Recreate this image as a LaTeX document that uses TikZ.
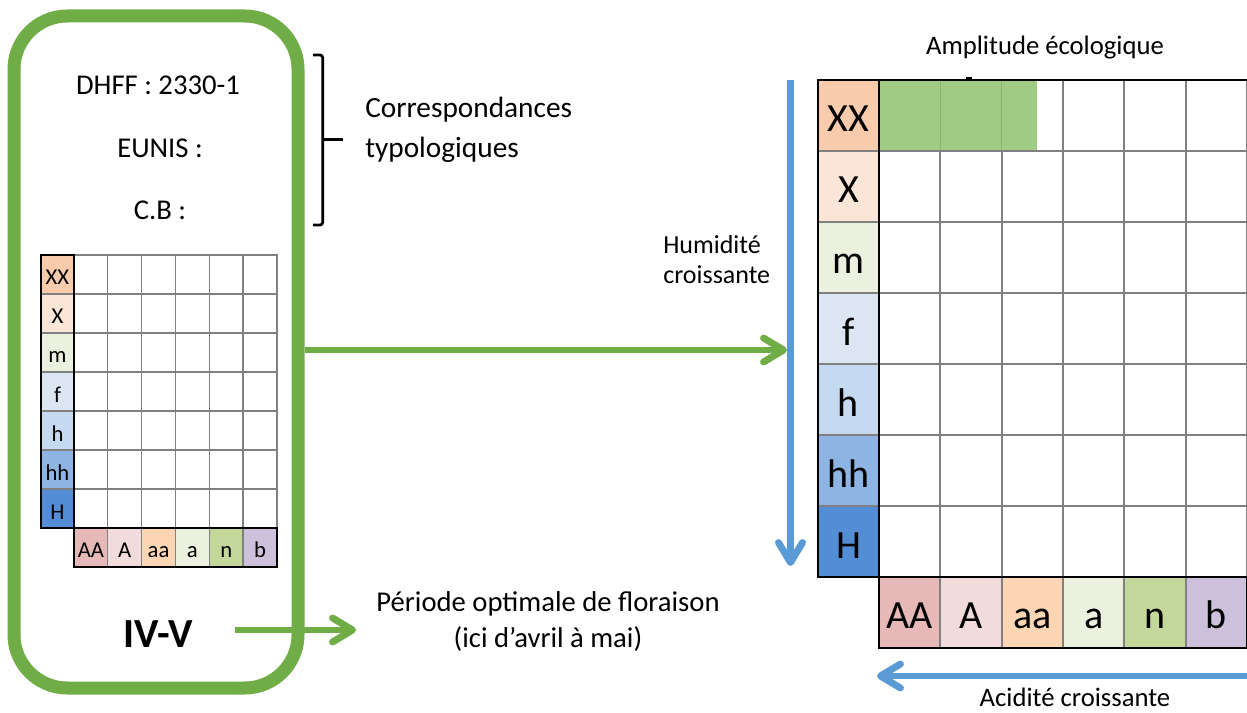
\documentclass[tikz,border=0pt]{standalone}
\usepackage{fontspec}
\setmainfont{Carlito}
\usetikzlibrary{arrows.meta}
\definecolor{gr}{HTML}{70AD47}
\definecolor{bl}{HTML}{5B9BD5}
\definecolor{gfill}{HTML}{A0CB85}
\definecolor{gfline}{HTML}{8AB36F}
\definecolor{glin}{HTML}{808080}
\definecolor{kXX}{HTML}{F8CBAD}
\definecolor{kX}{HTML}{FBE5D6}
\definecolor{km}{HTML}{EBF1DE}
\definecolor{kf}{HTML}{DCE6F2}
\definecolor{kh}{HTML}{C5D9F1}
\definecolor{khh}{HTML}{8DB4E2}
\definecolor{kH}{HTML}{538DD5}
\definecolor{kAA}{HTML}{E6B8B7}
\definecolor{kA}{HTML}{F2DCDB}
\definecolor{kaa}{HTML}{FCD5B4}
\definecolor{ka}{HTML}{EBF1DE}
\definecolor{kn}{HTML}{C4D79B}
\definecolor{kb}{HTML}{CCC0DA}
\tikzset{
  txt/.style={inner sep=0pt, font=\fontsize{21.5}{26}\selectfont},
  biglab/.style={inner sep=0pt, anchor=base, font=\fontsize{30}{34}\selectfont},
  smalllab/.style={inner sep=0pt, anchor=base, font=\fontsize{17}{20}\selectfont},
  gline/.style={draw=glin, line width=1.5pt},
  bline/.style={draw=black, line width=2pt},
  sgline/.style={draw=glin, line width=1pt},
  sbline/.style={draw=black, line width=1.3pt},
  garrow/.style={draw=gr, line width=5.2pt, -{Straight Barb[length=15pt,width=18pt,round]}},
  barrow/.style={draw=bl, line width=5.2pt, -{Straight Barb[length=15pt,width=18pt,round]}},
}
\begin{document}
\begin{tikzpicture}[x=0.75pt,y=-0.75pt]
\useasboundingbox (0,0) rectangle (1247,713);

% ---------- left card ----------
\node[draw=gr, line width=9.75pt, rounded corners=40pt, minimum width=213pt, minimum height=504pt] (card) at (156,352) {};
\node[txt] (dhff) at (158,85) {DHFF : 2330-1};
\node[txt] (eunis) at (160,148) {EUNIS :};
\node[txt] (cb) at (160,210) {C.B :};
\draw[line width=2pt, rounded corners=2pt] (313,55) -- (322.7,55) -- (322.7,225) -- (313,225);
\draw[line width=2pt] (322.7,139.5) -- (343,139.5);
\node[txt, align=left, anchor=west, font=\fontsize{22}{30}\selectfont] (corr) at (365,130) {Correspondances\\typologiques};

% ---------- small grid ----------
\foreach \lab/\col [count=\i from 0] in {XX/kXX, X/kX, m/km, f/kf, h/kh, hh/khh, H/kH} {
  \fill[fill=\col] (41,{255+39*\i}) rectangle (74,{294+39*\i});
  \node[smalllab] (s\i) at (57.5,{285+39*\i}) {\lab};
}
\foreach \lab/\col [count=\i from 0] in {AA/kAA, A/kA, aa/kaa, a/ka, n/kn, b/kb} {
  \fill[fill=\col] ({74+33.83*\i},528) rectangle ({107.83+33.83*\i},567);
  \node[smalllab] (sb\i) at ({90.9+33.83*\i},557) {\lab};
}
\foreach \i in {1,...,6} \draw[sgline] ({74+33.83*\i},255) -- ({74+33.83*\i},567);
\foreach \j in {1,...,6} \draw[sgline] (41,{255+39*\j}) -- (277,{255+39*\j});
\draw[sgline] (74,255) rectangle (277,528);
\draw[sbline] (41,255) rectangle (74,528);
\draw[sbline] (74,528) rectangle (277,567);

\node[inner sep=0pt, font=\bfseries\fontsize{31}{36}\selectfont] (ivv) at (158,634) {IV-V};
\coordinate (a1) at (235,630);
\node[inner sep=0pt, align=center, font=\fontsize{21.5}{27}\selectfont] (peri) at (548,622) {Période optimale de floraison\\(ici d’avril à mai)};
\coordinate (a2) at (356,630);
\draw[garrow] (a1) -- (a2);

% ---------- big grid ----------
\fill[black] (966,77) rectangle (972,80);
\foreach \lab/\col [count=\i from 0] in {XX/kXX, X/kX, m/km, f/kf, h/kh, hh/khh, H/kH} {
  \fill[fill=\col] (818,{80+71*\i}) rectangle (879,{151+71*\i});
  \node[biglab] (L\i) at (848.5,{132+71*\i}) {\lab};
}
\foreach \lab/\col [count=\i from 0] in {AA/kAA, A/kA, aa/kaa, a/ka, n/kn, b/kb} {
  \fill[fill=\col] ({879+61.33*\i},577) rectangle ({940.33+61.33*\i},648);
  \node[biglab] (B\i) at ({909.7+61.33*\i},628.5) {\lab};
}
\foreach \i in {1,...,6} \draw[gline] ({879+61.33*\i},80) -- ({879+61.33*\i},648);
\foreach \j in {1,...,6} \draw[gline] (818,{80+71*\j}) -- (1247,{80+71*\j});
\fill[gfill] (879,80) rectangle (1037,150);
\draw[draw=gfline, line width=1.2pt] (940.33,80) -- (940.33,150) (1001.67,80) -- (1001.67,150);
\draw[bline] (818,80) rectangle (879,577);
\draw[bline] (818,80) -- (1247,80);
\draw[bline] (879,577) rectangle (1247,648);

\node[inner sep=0pt, anchor=base, font=\fontsize{20}{24}\selectfont] (ampl) at (1045,55) {Amplitude écologique};
\node[inner sep=0pt, align=left, anchor=base west, font=\fontsize{19.5}{22.5}\selectfont] (hum) at (663,284) {Humidité\\croissante};
\node[inner sep=0pt, anchor=base, font=\fontsize{20}{24}\selectfont] (acid) at (1075,706) {Acidité croissante};

% ---------- arrows ----------
\coordinate (vtop) at (790.5,80);
\coordinate (vbot) at (790.5,566);
\draw[barrow] (vtop) -- (vbot);
\coordinate (hr) at (1247,676);
\coordinate (hl) at (877,676);
\draw[barrow] (hr) -- (hl);
\coordinate (hit) at (787,350);
\draw[garrow] ([yshift=1.5pt]card.east) -- (hit);
\end{tikzpicture}
\end{document}
